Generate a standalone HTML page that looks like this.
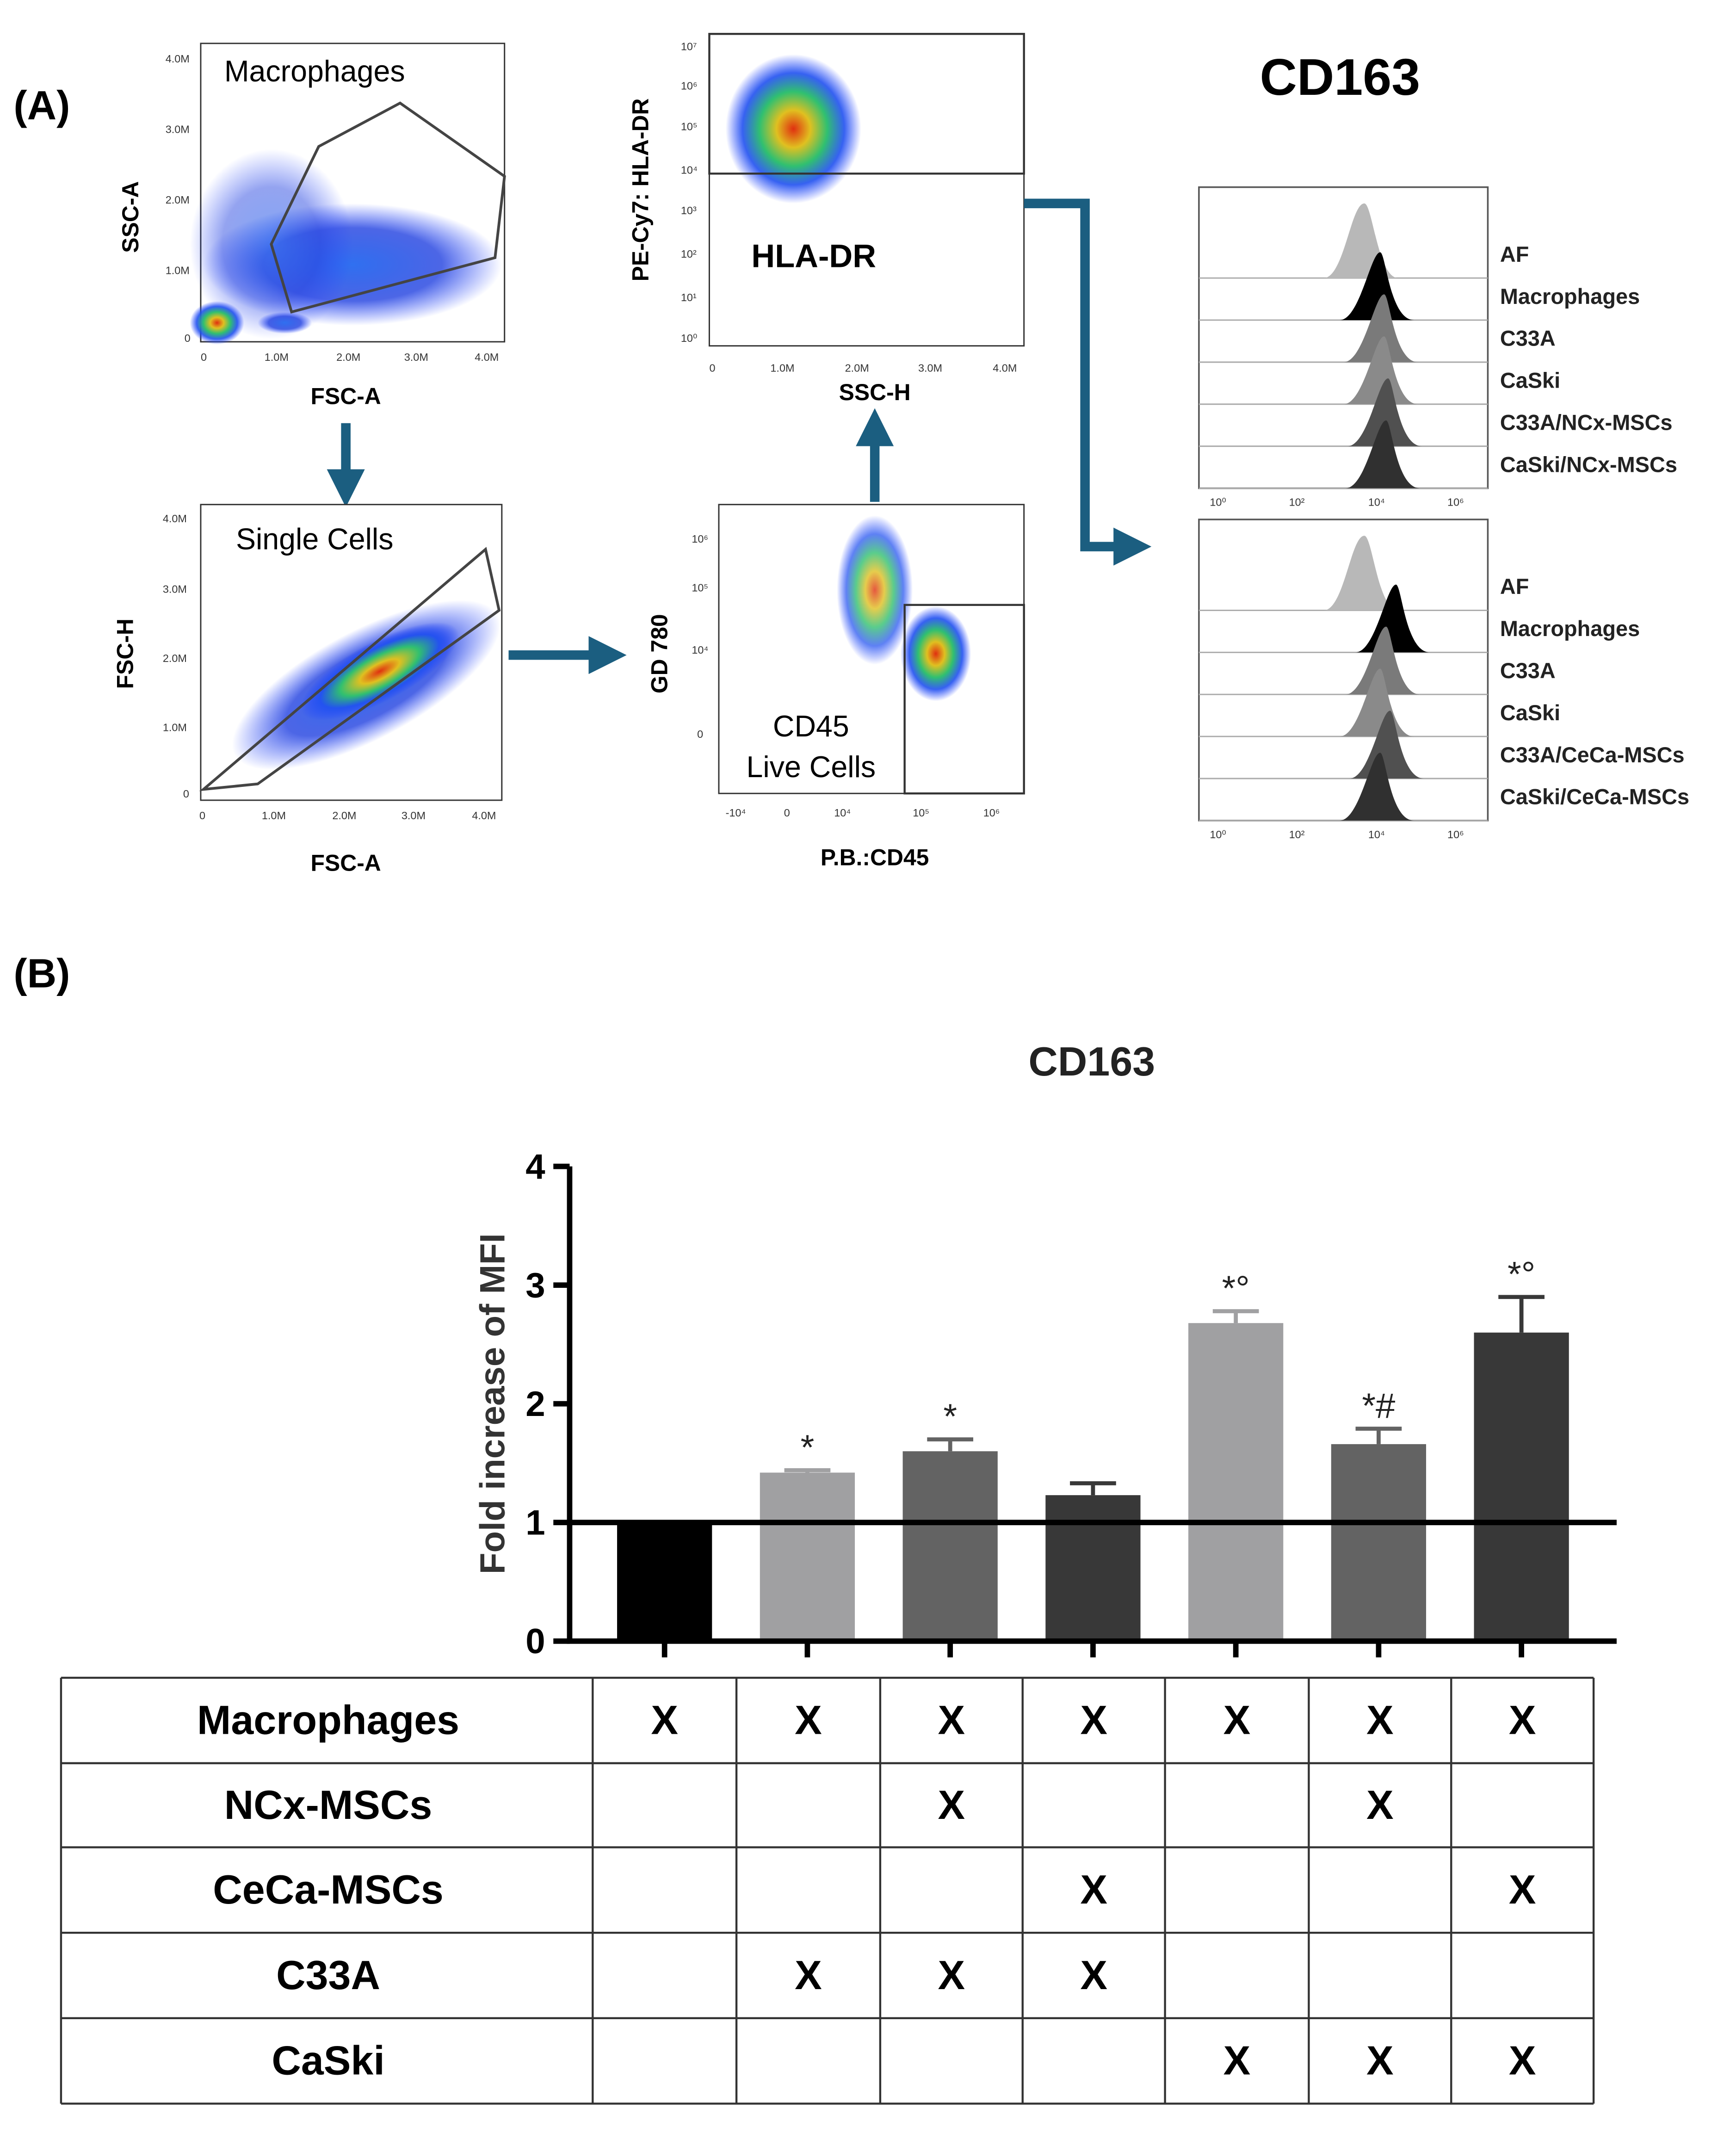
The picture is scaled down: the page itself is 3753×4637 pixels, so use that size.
<!DOCTYPE html>
<html><head><meta charset="utf-8"><style>
html,body{margin:0;padding:0;background:#fff}
svg{display:block}
text{font-family:"Liberation Sans",Arial,sans-serif}
</style></head><body>
<svg id="fig" width="3753" height="4637" viewBox="0 0 1280 1581.5" preserveAspectRatio="none" xmlns="http://www.w3.org/2000/svg">
<defs>
<radialGradient id="heat" cx="50%" cy="50%" r="50%">
<stop offset="0" stop-color="#e03010"/><stop offset="0.25" stop-color="#e0c020"/><stop offset="0.5" stop-color="#30c070"/><stop offset="0.75" stop-color="#2050f0" stop-opacity="0.9"/><stop offset="1" stop-color="#2040ff" stop-opacity="0"/>
</radialGradient>
<radialGradient id="blue" cx="50%" cy="50%" r="50%">
<stop offset="0" stop-color="#3070f0"/><stop offset="0.6" stop-color="#2040e0" stop-opacity="0.8"/><stop offset="1" stop-color="#2040ff" stop-opacity="0"/>
</radialGradient>
<marker id="ah" markerWidth="4" markerHeight="4" refX="2" refY="2" orient="auto" markerUnits="strokeWidth"><path d="M0,0 L4,2 L0,4 z" fill="#1b5e80"/></marker>
</defs>
<g id="panelA">
<text x="10" y="88" font-size="30" font-weight="bold">(A)</text>
<!-- plot 1 -->
<g>
<rect x="148" y="32" width="224" height="220" fill="#fff" stroke="#333" stroke-width="1"/>
<ellipse cx="260" cy="195" rx="110" ry="45" fill="url(#blue)"/>
<ellipse cx="200" cy="180" rx="60" ry="70" fill="url(#blue)" opacity="0.6"/>
<ellipse cx="160" cy="238" rx="20" ry="16" fill="url(#heat)"/>
<ellipse cx="210" cy="238" rx="20" ry="8" fill="url(#blue)"/>
<polygon points="200,180 235,108 295,76 372,130 365,190 215,230" fill="none" stroke="#444" stroke-width="2"/>
<text x="232" y="60" font-size="22" text-anchor="middle">Macrophages</text>
<text x="0" y="0" font-size="17" font-weight="bold" transform="translate(102,160) rotate(-90)" text-anchor="middle">SSC-A</text>
<text x="255" y="298" font-size="17" font-weight="bold" text-anchor="middle">FSC-A</text>
<g font-size="8" fill="#333"><text x="122" y="46">4.0M</text><text x="122" y="98">3.0M</text><text x="122" y="150">2.0M</text><text x="122" y="202">1.0M</text><text x="136" y="252">0</text>
<text x="148" y="266">0</text><text x="195" y="266">1.0M</text><text x="248" y="266">2.0M</text><text x="298" y="266">3.0M</text><text x="350" y="266">4.0M</text></g>
</g>
<line x1="255" y1="312" x2="255" y2="360" stroke="#1b5e80" stroke-width="7" marker-end="url(#ah)"/>
<!-- plot 2 -->
<g>
<rect x="148" y="372" width="222" height="218" fill="#fff" stroke="#333"/>
<ellipse cx="270" cy="505" rx="110" ry="40" transform="rotate(-28 270 505)" fill="url(#blue)"/>
<ellipse cx="280" cy="495" rx="65" ry="22" transform="rotate(-28 280 495)" fill="url(#heat)"/>
<polygon points="150,582 358,405 368,450 190,578" fill="none" stroke="#444" stroke-width="2"/>
<text x="232" y="405" font-size="22" text-anchor="middle">Single Cells</text>
<text font-size="17" font-weight="bold" transform="translate(98,482) rotate(-90)" text-anchor="middle">FSC-H</text>
<text x="255" y="642" font-size="17" font-weight="bold" text-anchor="middle">FSC-A</text>
<g font-size="8" fill="#333"><text x="120" y="385">4.0M</text><text x="120" y="437">3.0M</text><text x="120" y="488">2.0M</text><text x="120" y="539">1.0M</text><text x="135" y="588">0</text>
<text x="147" y="604">0</text><text x="193" y="604">1.0M</text><text x="245" y="604">2.0M</text><text x="296" y="604">3.0M</text><text x="348" y="604">4.0M</text></g>
</g>
<line x1="375" y1="483" x2="448" y2="483" stroke="#1b5e80" stroke-width="7" marker-end="url(#ah)"/>
<!-- plot 3 -->
<g>
<rect x="530" y="372" width="225" height="213" fill="#fff" stroke="#333"/>
<ellipse cx="645" cy="435" rx="28" ry="55" fill="url(#heat)" opacity="0.8"/>
<ellipse cx="690" cy="482" rx="26" ry="35" fill="url(#heat)"/>
<rect x="667" y="446" width="88" height="139" fill="none" stroke="#333" stroke-width="1.5"/>
<text x="598" y="543" font-size="22" text-anchor="middle">CD45</text>
<text x="598" y="573" font-size="22" text-anchor="middle">Live Cells</text>
<text font-size="17" font-weight="bold" transform="translate(492,482) rotate(-90)" text-anchor="middle">GD 780</text>
<text x="645" y="638" font-size="17" font-weight="bold" text-anchor="middle">P.B.:CD45</text>
<g font-size="8" fill="#333"><text x="510" y="400">10⁶</text><text x="510" y="436">10⁵</text><text x="510" y="482">10⁴</text><text x="514" y="544">0</text>
<text x="535" y="602">-10⁴</text><text x="578" y="602">0</text><text x="615" y="602">10⁴</text><text x="673" y="602">10⁵</text><text x="725" y="602">10⁶</text></g>
</g>
<line x1="645" y1="370" x2="645" y2="315" stroke="#1b5e80" stroke-width="7" marker-end="url(#ah)"/>
<!-- plot 4 -->
<g>
<rect x="523" y="25" width="232" height="230" fill="#fff" stroke="#333"/>
<ellipse cx="585" cy="95" rx="50" ry="55" fill="url(#heat)"/>
<rect x="523" y="25" width="232" height="103" fill="none" stroke="#333" stroke-width="1.5"/>
<text x="600" y="197" font-size="24" font-weight="bold" text-anchor="middle">HLA-DR</text>
<text font-size="17" font-weight="bold" transform="translate(478,140) rotate(-90)" text-anchor="middle">PE-Cy7: HLA-DR</text>
<text x="645" y="295" font-size="17" font-weight="bold" text-anchor="middle">SSC-H</text>
<g font-size="8" fill="#333"><text x="502" y="37">10⁷</text><text x="502" y="66">10⁶</text><text x="502" y="96">10⁵</text><text x="502" y="128">10⁴</text><text x="502" y="158">10³</text><text x="502" y="190">10²</text><text x="502" y="222">10¹</text><text x="502" y="252">10⁰</text>
<text x="523" y="274">0</text><text x="568" y="274">1.0M</text><text x="623" y="274">2.0M</text><text x="677" y="274">3.0M</text><text x="732" y="274">4.0M</text></g>
</g>
<polyline points="755,150 800,150 800,403 835,403" fill="none" stroke="#1b5e80" stroke-width="7" marker-end="url(#ah)"/>
<text x="988" y="70" font-size="38" font-weight="bold" text-anchor="middle">CD163</text>
<g id="hists"></g>
</g>

<g id="panelB">
<text x="10" y="728" font-size="30" font-weight="bold">(B)</text>
<text x="805" y="793" font-size="30" font-weight="bold" text-anchor="middle" fill="#222">CD163</text>
<text font-size="26" font-weight="bold" fill="#333" text-anchor="middle" transform="translate(372,1035) rotate(-90)">Fold increase of MFI</text>
<g id="chart"></g>
<g id="table"></g>
</g>
</svg>
<script>
const categories = ["M","M+C33A","M+C33A+NCx","M+C33A+CeCa","M+CaSki","M+CaSki+NCx","M+CaSki+CeCa"];
const values = [1.0, 1.42, 1.6, 1.23, 2.68, 1.66, 2.6];
const errors = [0, 0.02, 0.1, 0.1, 0.1, 0.13, 0.3];
const annotations = ["", "*", "*", "", "*°", "*#", "*°"];
const yTicks = [0, 1, 2, 3, 4];
const rowLabels = ["Macrophages","NCx-MSCs","CeCa-MSCs","C33A","CaSki"];
const marks = [[1,1,1,1,1,1,1],[0,0,1,0,0,1,0],[0,0,0,1,0,0,1],[0,1,1,1,0,0,0],[0,0,0,0,1,1,1]];
const histLabels1 = ["AF","Macrophages","C33A","CaSki","C33A/NCx-MSCs","CaSki/NCx-MSCs"];
const histLabels2 = ["AF","Macrophages","C33A","CaSki","C33A/CeCa-MSCs","CaSki/CeCa-MSCs"];
const histPeaks1 = [3.8, 4.2, 4.3, 4.3, 4.4, 4.35];
const histPeaks2 = [3.8, 4.6, 4.35, 4.2, 4.45, 4.2];

const NS="http://www.w3.org/2000/svg";
function mk(tag, attrs, parent){const e=document.createElementNS(NS,tag);for(const k in attrs)e.setAttribute(k,attrs[k]);parent.appendChild(e);return e;}
const colors=["#000","#a0a0a2","#636363","#383838","#a0a0a2","#636363","#383838"];
const y0=1210, yTop=860, yMax=4;
const ys=v=>y0-(y0-yTop)*v/yMax;
const xs=i=>490+i*105.3;
const chart=document.getElementById('chart');
values.forEach((v,i)=>{
  const b=mk('rect',{x:xs(i)-35,y:ys(v),width:70,height:y0-ys(v),fill:colors[i]},chart);
  
  
  if(errors[i]>0){
    const e=mk('path',{d:`M${xs(i)},${ys(v)} V${ys(v+errors[i])} M${xs(i)-17},${ys(v+errors[i])} H${xs(i)+17}`,stroke:colors[i],'stroke-width':3,fill:'none'},chart);
    
    
  }
  if(annotations[i]){
    const t=mk('text',{x:xs(i),y:ys(v+errors[i])-8,'font-size':26,'text-anchor':'middle',fill:'#222'},chart);
    t.textContent=annotations[i];
    
    
  }
  const tk=mk('line',{x1:xs(i),x2:xs(i),y1:y0,y2:y0+12,stroke:'#000','stroke-width':4},chart);
  
  
});
const ax=mk('path',{d:`M420,${yTop} V${y0} H1192`,stroke:'#000','stroke-width':4,fill:'none'},chart);


const ref=mk('line',{x1:420,x2:1192,y1:ys(1),y2:ys(1),stroke:'#000','stroke-width':4},chart);


yTicks.forEach(t=>{
  const l=mk('line',{x1:408,x2:420,y1:ys(t),y2:ys(t),stroke:'#000','stroke-width':4},chart);
  
  
  const tx=mk('text',{x:402,y:ys(t)+9,'font-size':26,'font-weight':'bold','text-anchor':'end'},chart);
  tx.textContent=t;
  
  
});
// table
const tb=document.getElementById('table');
const rowY=[1237,1300,1362,1425,1488,1551];
const colX=[45,437,543,649,754,859,965,1070,1175];
const grid=mk('g',{stroke:'#333','stroke-width':1.5},tb);
rowY.forEach(y=>mk('line',{x1:45,x2:1175,y1:y,y2:y},grid));
colX.forEach(x=>mk('line',{x1:x,x2:x,y1:1237,y2:1551},grid));
rowLabels.forEach((r,ri)=>{
  const cy=(rowY[ri]+rowY[ri+1])/2+10;
  const t=mk('text',{x:242,y:cy,'font-size':30,'font-weight':'bold','text-anchor':'middle'},tb);
  t.textContent=r;
  
  
  marks[ri].forEach((m,ci)=>{ if(m){
    const x=mk('text',{x:(colX[ci+1]+colX[ci+2])/2,y:cy,'font-size':30,'font-weight':'bold','text-anchor':'middle'},tb);
    x.textContent='X';
    
    
  }});
});
// histograms
const hg=document.getElementById('hists');
const hcols=["#b8b8b8","#000","#7a7a7a","#8a8a8a","#505050","#303030"];
function panel(top,labels,peaks){
  const left=884,right=1097,rowH=31,first=top+67;
  mk('rect',{x:left,y:top,width:right-left,height:first+5*rowH-top,fill:'#fff',stroke:'#555','stroke-width':1.2},hg);
  const lx=v=>895+v*29.2;
  peaks.forEach((p,i)=>{
    const base=first+i*rowH;
    mk('line',{x1:left,x2:right,y1:base,y2:base,stroke:'#aaa','stroke-width':1},hg);
    const c=lx(p), h=i==0?55:50, w=i==0?10:7;
    const d=`M${c-30},${base} C${c-15},${base} ${c-w},${base-h} ${c},${base-h} C${c+w*0.6},${base-h} ${c+w},${base} ${c+25},${base} Z`;
    const pk=mk('path',{d:d,fill:hcols[i]},hg);
    
    
    const t=mk('text',{x:1106,y:base-12,'font-size':16,'font-weight':'bold',fill:'#222'},hg);
    t.textContent=labels[i];
    
    
  });
  const ab=first+5*rowH;
  ["10⁰","10²","10⁴","10⁶"].forEach((s,k)=>{const t=mk('text',{x:lx(k*2)-3,y:ab+13,'font-size':8,fill:'#333'},hg);t.textContent=s;});
}
panel(138,histLabels1,histPeaks1);
panel(383,histLabels2,histPeaks2);
</script>
</body></html>
